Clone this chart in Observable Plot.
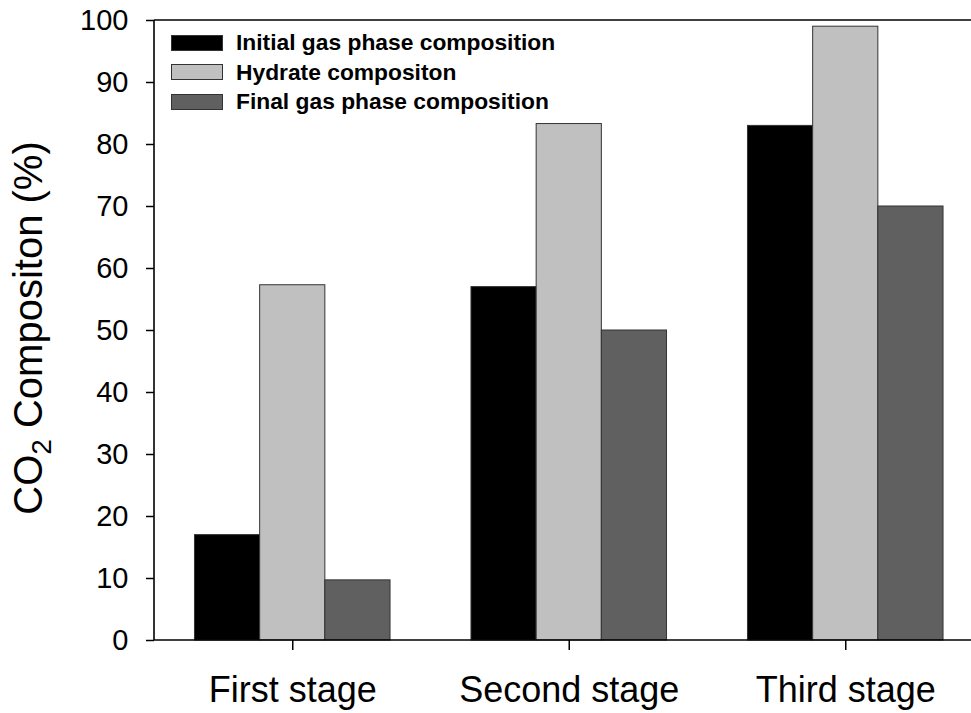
<!DOCTYPE html>
<html>
<head>
<meta charset="utf-8">
<script src="https://cdn.jsdelivr.net/npm/d3@7"></script>
<script src="https://cdn.jsdelivr.net/npm/@observablehq/plot@0.6"></script>
<style>
  body { margin: 0; background: #fff; font-family: "Liberation Sans", Arial, sans-serif; }
  #chart { position: relative; width: 971px; height: 713px; overflow: hidden; }
  #legend { position: absolute; left: 171px; top: 28px; }
  .row { display: flex; align-items: center; height: 29.5px; }
  .sw { width: 52px; height: 16px; border: 1px solid #333; box-sizing: border-box; margin-right: 13px; }
  .lab { font: bold 22.8px "Liberation Sans", Arial, sans-serif; color: #000; white-space: nowrap; }
</style>
</head>
<body>
<div id="chart"></div>
<script>
// Stages along the x axis
const stages = ["First stage", "Second stage", "Third stage"];
// Series shown in each stage group
const series = ["Initial gas phase composition", "Hydrate compositon", "Final gas phase composition"];
// CO2 composition (%) per stage
const initialGas = [17.0, 57.0, 83.0];
const hydrate = [57.3, 83.3, 99.0];
const finalGas = [9.7, 50.0, 70.0];
// Y axis ticks
const yTicks = [0, 10, 20, 30, 40, 50, 60, 70, 80, 90, 100];
const colors = ["#000000", "#c0c0c0", "#606060"];

const values = [initialGas, hydrate, finalGas];
const data = stages.flatMap((stage, i) =>
  series.map((s, j) => ({stage, series: s, value: values[j][i]}))
);

const font = "Liberation Sans, Arial, sans-serif";

const chart = Plot.plot({
  width: 971,
  height: 713,
  marginTop: 20,
  marginBottom: 73,
  marginLeft: 154,
  marginRight: -12.5,
  style: {fontFamily: font, background: "#fff", color: "#000"},
  // each stage gets an equal slot; the gaps between groups come from the inner band's outer padding
  fx: {domain: stages, paddingInner: 0, paddingOuter: 0, round: false},
  x: {domain: series, paddingInner: 0, paddingOuter: 0.621, round: false, axis: null},
  y: {domain: [0, 100]},
  color: {domain: series, range: colors},
  marks: [
    Plot.barY(data, {
      fx: "stage",
      x: "series",
      y: "value",
      fill: "series",
      stroke: "#333",
      strokeWidth: 1
    }),
    Plot.axisY({
      ticks: yTicks,
      tickSize: 8,
      tickPadding: 18,
      fontSize: 29,
      label: null,
      stroke: "#000",
      strokeWidth: 1.5
    }),
    Plot.axisFx({
      anchor: "bottom",
      tickSize: 10,
      tickPadding: 26,
      fontSize: 36,
      label: null,
      strokeWidth: 1.5
    })
  ]
});

document.getElementById("chart").appendChild(chart);

// Axis lines framing the plot area
const svg = d3.select(chart);
const y = chart.scale("y");
const fx = chart.scale("fx");
const x0 = fx.range[0], x1 = fx.range[1];
const yb = y.apply(0), yt = y.apply(100);
const frame = svg.append("g").attr("stroke", "#000").attr("stroke-width", 1.6).attr("fill", "none");
frame.append("line").attr("x1", x0).attr("x2", x0).attr("y1", yt).attr("y2", yb);
frame.append("line").attr("x1", x0).attr("x2", x1).attr("y1", yb).attr("y2", yb);
frame.append("line").attr("x1", x0).attr("x2", x1).attr("y1", yt).attr("y2", yt);
frame.append("line").attr("x1", x1).attr("x2", x1).attr("y1", yt).attr("y2", yb);

// Rotated y axis title with subscript
const title = svg.append("text")
  .attr("transform", `translate(42,${(yb + yt) / 2 - 2}) rotate(-90)`)
  .attr("text-anchor", "middle")
  .attr("font-family", font)
  .attr("font-size", 40)
  .attr("fill", "#000");
title.append("tspan").text("CO");
title.append("tspan").attr("font-size", 28).attr("dy", 9).text("2");
title.append("tspan").attr("dy", -9).text(" Compositon (%)");

// Legend inside the plot area
const legend = document.createElement("div");
legend.id = "legend";
series.forEach((s, i) => {
  const row = document.createElement("div");
  row.className = "row";
  const sw = document.createElement("div");
  sw.className = "sw";
  sw.style.background = colors[i];
  const lab = document.createElement("span");
  lab.className = "lab";
  lab.textContent = s;
  row.appendChild(sw);
  row.appendChild(lab);
  legend.appendChild(row);
});
document.getElementById("chart").appendChild(legend);
</script>
</body>
</html>
